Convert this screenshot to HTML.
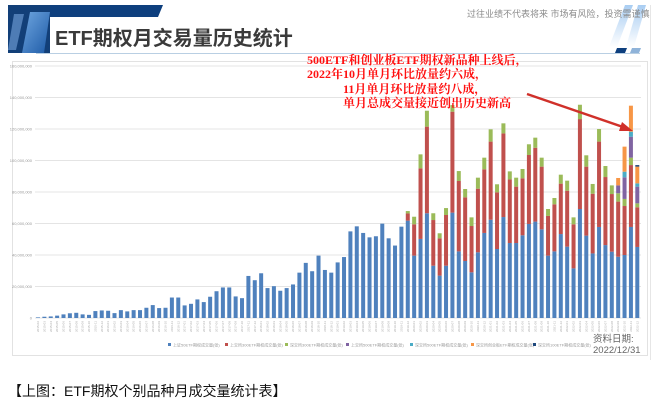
<!DOCTYPE html>
<html><head><meta charset="utf-8"><style>
body{margin:0;background:#fff;}
#wrap{position:relative;width:656px;height:407px;overflow:hidden;background:#fff;font-family:"Liberation Sans","Noto Sans CJK SC",sans-serif;}
.t{position:absolute;white-space:nowrap;}
</style></head><body>
<div id="wrap">
<svg width="656" height="407" style="position:absolute;left:0;top:0">
  <defs>
    <linearGradient id="lg" x1="0" y1="0" x2="1" y2="1"><stop offset="0" stop-color="#6fa6e0"/><stop offset="1" stop-color="#1d5aa6"/></linearGradient>
    <linearGradient id="rg" x1="0" y1="0" x2="0" y2="1"><stop offset="0" stop-color="#a9cdf2"/><stop offset="1" stop-color="#ffffff"/></linearGradient>
  </defs>
  <polygon points="8,5 163,5 158,17 8,17" fill="#0e3f7e"/>
  <rect x="8" y="5" width="42" height="48" fill="#123f78"/>
  <polygon points="14,14 24,14 16,50 8,50" fill="#5e8cc4" opacity="0.8"/>
  <polygon points="30,12 50,12 44,53 22,53" fill="url(#lg)"/>
  <line x1="36" y1="53.5" x2="640" y2="53.5" stroke="#b9cfe3" stroke-width="1"/>
  <polygon points="625,5 633,5 617,47 609,47" fill="url(#rg)"/>
  <polygon points="638,5 646,5 634,47 626,47" fill="url(#rg)"/>
  <polygon points="617,48 627,48 625,53 615,53" fill="#0e3f7e"/>
  <polygon points="632,48 641,48 639,53 630,53" fill="#8fb3d9"/>
  <line x1="650.5" y1="5" x2="650.5" y2="360" stroke="#e6e6e6"/>
</svg>
<div class="t" style="left:55px;top:22px;font-size:20px;font-weight:bold;color:#3a3a3a;">ETF期权月交易量历史统计</div>
<div class="t" style="left:467px;top:7px;font-size:9px;color:#8a8a8a;">过往业绩不代表将来 市场有风险，投资需谨慎</div>

<svg id="chart" width="656" height="407" style="position:absolute;left:0;top:0"></svg>

<div style="position:absolute;left:0;top:0;font-family:'Liberation Serif','Noto Serif CJK SC',serif;font-weight:bold;font-size:12px;color:#ff1010;line-height:14px;">
  <div class="t" style="left:307px;top:53px;">500ETF和创业板ETF期权新品种上线后，</div>
  <div class="t" style="left:307px;top:67px;">2022年10月单月环比放量约六成，</div>
  <div class="t" style="left:343px;top:82px;">11月单月环比放量约八成，</div>
  <div class="t" style="left:343px;top:96px;">单月总成交量接近创出历史新高</div>
</div>
<div class="t" style="left:593px;top:334px;font-size:9.5px;color:#666;line-height:11px;">资料日期:<br>2022/12/31</div>
<div class="t" style="left:8px;top:381px;font-size:14px;color:#111;">【上图：ETF期权个别品种月成交量统计表】</div>
</div>
<script>
// values in millions of contracts, months 2015-02 .. 2022-12
const months = [];
const sh50 = [0.4,0.8,1,1.5,2.3,3,3.3,2.3,2,4.4,4.8,4.6,3.1,5,4.2,5,5,6.5,8.2,6.3,6.5,13,13,8,9,11.8,10.1,13.5,17,19.4,19.4,13.7,12.6,26.7,24,28.4,19,20.2,17.3,19,21.3,28.8,35,29.7,39.6,30.5,28.8,35.3,38.7,55,58.2,54,51.2,51.9,59.9,50.6,46,58,61.8,39.6,50.2,66.5,33.2,26.9,33.2,66.9,42.3,36.2,29,41.7,54,62.4,43.8,64.1,47.6,47.6,52.5,59.7,61.2,56.3,39.6,42.3,53.3,45.3,31.5,69.2,52.3,41,57.8,46.3,42.1,38.9,40,57.8,45.1];
const sh300 = new Array(95).fill(0);
const sz300 = new Array(95).fill(0);
const sh500 = new Array(95).fill(0);
const sz500 = new Array(95).fill(0);
const szcyb = new Array(95).fill(0);
const sz100 = new Array(95).fill(0);
const redTotals = [66.4,59.5,95,121.5,62.2,50.6,65.4,131,87,76.6,58.4,82.1,94.4,112,79.8,117.2,88,83.4,88.7,103.5,108.1,96.1,64.8,72.2,85.3,80.8,59.5,126.3,96.1,78.9,112,89.5,78.7,73.9,71.1,97.1,70.3];
const greenTotals = [67.9,64.3,103.9,131.6,66.5,53.8,69.8,135.2,93.3,81.9,63.9,89.1,101.8,119.8,84.9,123.6,93.1,89.1,94.6,110.3,114.5,101.8,69.2,76.2,91,87.2,63.9,135.4,103.3,85.1,120,96.5,84.2,79.2,75.6,101.8,72.8];
for(let i=0;i<redTotals.length;i++){const k=58+i;sh300[k]=redTotals[i]-sh50[k];sz300[k]=greenTotals[i]-redTotals[i];}
const top4 = [84.2,89.3,115.1,83.4];
const top5 = [84.2,92.9,118.3,85.5];
const top6 = [88.9,108.8,134.8,96.1];
const top7 = [88.9,108.8,134.8,97.1];
for(let j=0;j<4;j++){const k=91+j;sh500[k]=top4[j]-greenTotals[33+j];sz500[k]=top5[j]-top4[j];szcyb[k]=top6[j]-top5[j];sz100[k]=top7[j]-top6[j];}
const series=[sh50,sh300,sz300,sh500,sz500,szcyb,sz100];
const seriesNames=["上证50ETF期权成交量(张)","上交所300ETF期权成交量(张)","深交所300ETF期权成交量(张)","上交所500ETF期权成交量(张)","深交所500ETF期权成交量(张)","深交所创业板ETF期权成交量(张)","深交所100ETF期权成交量(张)"];
const colors=["#4f81bd","#c0504d","#9bbb59","#8064a2","#4bacc6","#f79646","#1f497d"];
const yTicks=[0,20,40,60,80,100,120,140,160];
const yTickLabels=["0","20,000,000","40,000,000","60,000,000","80,000,000","100,000,000","120,000,000","140,000,000","160,000,000"];
for(let y=2015;y<=2022;y++)for(let m=1;m<=12;m++){if(y===2015&&m<2)continue;months.push(y+"-"+String(m).padStart(2,"0"));}

const svg=document.getElementById('chart');const NS="http://www.w3.org/2000/svg";
function mk(t,a){const e=document.createElementNS(NS,t);for(const k in a)e.setAttribute(k,a[k]);svg.appendChild(e);return e;}
const y0=318,yTop=66,x0=38,x1=637.3;
const yScale=v=>y0-(v/160)*(y0-yTop);
const xScale=i=>x0+i*(x1-x0)/(months.length-1);
let fr=mk('rect',{x:12.5,y:61.5,width:635,height:294,fill:'none',stroke:'#e2e2e2'});

yTicks.forEach((v,i)=>{
  const g=mk('line',{x1:35,x2:641,y1:yScale(v),y2:yScale(v),stroke:'#e4e4e4','stroke-width':1});
  
  const t=mk('text',{x:32,y:yScale(v)+1.5,'font-size':4,fill:'#999','text-anchor':'end'});
  
  t.textContent=yTickLabels[i];
});
months.forEach((m,i)=>{
  let acc=0;const cx=xScale(i);
  series.forEach((s,si)=>{const v=s[i];if(v<=0)return;
    const r=mk('rect',{x:cx-2,y:yScale(acc+v),width:4,height:yScale(acc)-yScale(acc+v),fill:colors[si]});
    
    acc+=v;});
  const t=mk('text',{x:0,y:0,'font-size':3,fill:'#aaa','text-anchor':'end',transform:`translate(${cx+1},${y0+3}) rotate(-90)`});
  
  t.textContent=m;
});
const lx=[168,225,285,346,410,471,533];
seriesNames.forEach((n,i)=>{
  const r=mk('rect',{x:lx[i],y:343,width:3,height:3,fill:colors[i]});
  
  const t=mk('text',{x:lx[i]+5,y:346.5,'font-size':4,fill:'#999'});
  
  t.textContent=n;
});
const ar=mk('line',{x1:527,y1:94,x2:626,y2:128,stroke:'#d0302a','stroke-width':2.5});

const ah=mk('polygon',{points:'633,131 622,122 619,131',fill:'#d0302a'});

</script>
</body></html>
